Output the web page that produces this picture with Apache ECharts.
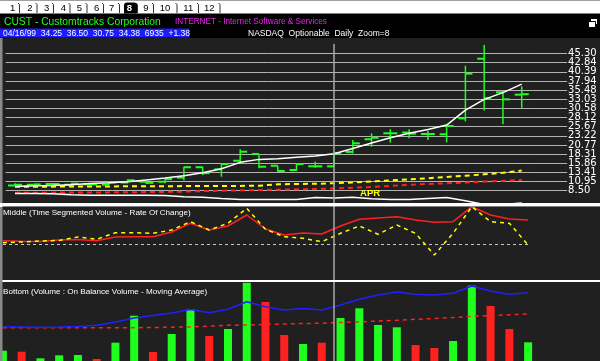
<!DOCTYPE html>
<html><head><meta charset="utf-8">
<script src="https://cdn.jsdelivr.net/npm/echarts@6/dist/echarts.min.js"></script>
<style>html,body{margin:0;padding:0;background:#000;}#c{width:600px;height:361px;}</style>
</head><body><div id="c"></div>
<script>
// ---- data ----
const dates = ['03/09/99','03/10/99','03/11/99','03/12/99','03/15/99','03/16/99','03/17/99','03/18/99','03/19/99',
  '03/22/99','03/23/99','03/24/99','03/25/99','03/26/99','03/29/99','03/30/99','03/31/99','04/01/99',
  '04/05/99','04/06/99','04/07/99','04/08/99','04/09/99','04/12/99','04/13/99','04/14/99','04/15/99','04/16/99'];
const openP  = [9.9,10.1,10.3,10.1,10.2,10.1,10.7,10.9,10.9,12.0,14.8,14.24,16.54,18.34,15.2,14.05,15.04,15.04,18.9,22.3,23.9,24.1,23.7,23.63,27.9,43.9,34.9,34.25];
const highP  = [10.5,10.3,10.5,10.5,10.5,10.9,11.55,11.1,11.8,14.9,14.9,15.65,19.6,18.34,15.2,15.85,16.28,18.96,22.1,23.9,24.97,24.97,24.59,25.85,42.0,47.6,35.3,36.50];
const lowP   = [9.8,9.9,10.0,9.9,9.85,10.0,10.5,10.3,10.5,11.3,12.7,12.25,15.85,14.5,13.6,13.78,14.67,14.93,18.5,20.3,21.37,22.55,22.1,21.48,27.1,30.0,26.3,30.75];
const closeP = [10.1,10.2,10.3,10.4,10.2,10.7,11.3,10.6,11.6,14.8,13.2,15.65,18.96,14.93,13.78,15.66,15.04,18.53,21.2,22.7,23.9,23.8,23.7,25.85,39.9,33.3,33.0,34.38];
const maShort = [9.6,9.8,9.9,10.1,10.4,10.6,10.9,11.4,11.9,12.5,13.3,14.4,16.1,16.9,17.1,17.5,17.8,18.4,19.8,21.3,22.7,23.9,24.9,26.1,30.1,33.0,34.8,37.1];
const maMid   = [9.55,9.57,9.59,9.61,9.63,9.65,9.67,9.69,9.71,9.73,9.75,9.76,9.78,9.85,10.2,10.3,10.35,10.5,10.7,10.95,11.25,11.55,11.85,12.2,12.5,12.9,13.3,13.9];
const maLong  = [7.95,7.97,7.98,8.0,8.02,8.05,8.08,8.12,8.18,8.25,8.38,8.5,8.6,8.68,8.78,8.88,8.98,9.1,9.3,9.5,9.8,10.1,10.3,10.5,10.7,10.95,11.15,11.4];
const relStrength = [7.75,7.75,7.7,7.43,7.29,7.29,7.29,7.29,7.2,6.89,6.76,6.41,6.14,6.14,6.14,6.14,6.68,6.57,6.76,6.35,6.14,6.14,6.41,6.68,5.8,4.8,4.8,5.2];
const priceTickLabels = ['8.50','10.95','13.41','15.86','18.31','20.77','23.22','25.67','28.12','30.58','33.03','35.48','37.94','40.39','42.84','45.30'];
const monthLabel = 'APR';
const monthStart = '04/01/99';

const volDates = ['03/08/99'].concat(dates);
const volume = [3820,3450,1000,2110,2230,740,6790,16800,3340,10020,19180,9280,11870,29000,21900,9650,6310,6790,15950,19550,13360,12500,5940,4820,7420,27940,20400,11870,6935];
const volUp = [1,0,1,1,1,0,1,1,0,1,1,0,1,1,0,0,1,0,1,1,1,1,0,0,1,1,0,0,1];
const obv   = [34.3,34.0,33.7,34.0,34.5,35.7,39.0,43.0,45.5,48.0,51.5,48.3,51.7,59.3,54.3,51.0,52.5,51.0,56.0,61.7,66.0,69.0,66.7,66.0,67.7,75.0,70.0,66.7,68.3];
const obvMA = [33.3,33.3,33.3,33.3,33.3,33.3,33.3,33.3,33.5,33.8,34.2,34.8,35.7,36.0,36.5,37.0,37.5,37.8,38.5,39.2,40.0,40.7,41.7,42.5,43.5,44.7,45.4,46.2,47.0];
const tsvRoc    = [3.3,2.7,2.5,4,4.5,3.3,7,7.3,7.3,12,20.7,14,18,29,15,9,11,10,18,24.7,26,27.3,24,21.7,22.3,37.3,29,25,24];
const tsvSignal = [1.3,2,3,3.5,7,4.7,11.3,11.3,10.7,14,22.3,14,20.7,35.7,14.7,7.3,5.7,2.3,10.7,18,9.7,19,10.7,-11,10.7,37.3,22.3,20.7,-1];

const tabs = ['1','2','3','4','5','6','7','8','9','10','11','12'];
const activeTab = '8';
const title1 = 'CUST - Customtracks Corporation';
const title2 = 'INTERNET - Internet Software & Services';
const quoteLine = '04/16/99  34.25  36.50  30.75  34.38  6935  +1.38';
const infoLine = 'NASDAQ  Optionable  Daily  Zoom=8';
const middleTitle = 'Middle (Time Segmented Volume - Rate Of Change)';
const bottomTitle = 'Bottom (Volume : On Balance Volume - Moving Average)';

// ---- chart ----
const priceTickValues = priceTickLabels.map(Number);
const evenTicks = priceTickValues.filter((v,i)=>i%2===0);
const oddTicks = priceTickValues.filter((v,i)=>i%2===1);
const tickText = (v)=>{let k=0,b=1e9;priceTickValues.forEach((t,i)=>{const d=Math.abs(t-v);if(d<b){b=d;k=i;}});return priceTickLabels[k];};
const GRID = '#b4b4b4';
const chart = echarts.init(document.getElementById('c'), null, {renderer:'canvas'});

const tabX = [12.7,30,46.7,63.3,79.3,96.7,111.7,129.3,146,165,188.3,209.3];
const tabSep = [19.5,37,53.5,70,87,103.5,119.5,137.5,153.5,177,198.5,220];
const graphics = [
  {type:'rect', z:-10, shape:{x:0,y:0,width:600,height:14}, style:{fill:'#ffffff'}},
  {type:'rect', z:-10, shape:{x:0,y:0,width:600,height:1}, style:{fill:'#a0a0a0'}},
  {type:'rect', z:-10, shape:{x:0,y:13,width:600,height:1}, style:{fill:'#808080'}},
  {type:'rect', z:-10, shape:{x:0,y:38,width:600,height:165}, style:{fill:'#202020'}},
  {type:'rect', z:-10, shape:{x:0,y:207,width:600,height:73}, style:{fill:'#202020'}},
  {type:'rect', z:-10, shape:{x:0,y:282,width:600,height:79}, style:{fill:'#202020'}},
  {type:'rect', z:-9, shape:{x:0,y:28.5,width:189,height:9}, style:{fill:'#1c1cff'}},
  {type:'rect', z:50, shape:{x:0,y:203,width:600,height:3.5}, style:{fill:'#ffffff'}},
  {type:'rect', z:50, shape:{x:0,y:280,width:600,height:2}, style:{fill:'#ffffff'}},
  {type:'rect', z:50, shape:{x:0,y:38,width:2.5,height:323}, style:{fill:'#8a8a8a'}},
  {type:'rect', z:50, shape:{x:0,y:203,width:2.5,height:4}, style:{fill:'#ffffff'}},
  {type:'rect', z:5, shape:{x:124,y:2.5,width:13,height:11,r:[3,3,0,0]}, style:{fill:'#000'}},
  {type:'rect', z:5, shape:{x:590.5,y:18.5,width:7,height:6}, style:{fill:'#fff',stroke:'#000',lineWidth:1}},
  {type:'rect', z:5, shape:{x:588.5,y:21.5,width:7,height:6}, style:{fill:'#fff',stroke:'#000',lineWidth:1}},
  {type:'text', z:5, x:4, y:22.5, style:{text:title1, fill:'#22ff22', font:'10.3px "Liberation Sans"', verticalAlign:'middle'}},
  {type:'text', z:5, x:175, y:22, style:{text:title2, fill:'#ee22ee', font:'8.2px "Liberation Sans"', verticalAlign:'middle'}},
  {type:'text', z:5, x:3, y:33.3, style:{text:quoteLine, fill:'#ffffff', font:'8.5px "Liberation Sans"', verticalAlign:'middle'}},
  {type:'text', z:5, x:248, y:33.3, style:{text:infoLine, fill:'#ffffff', font:'8.5px "Liberation Sans"', verticalAlign:'middle'}},
  {type:'text', z:55, x:3, y:213, style:{text:middleTitle, fill:'#ffffff', font:'8.1px "Liberation Sans"', verticalAlign:'middle'}},
  {type:'text', z:55, x:3, y:291.5, style:{text:bottomTitle, fill:'#ffffff', font:'8.1px "Liberation Sans"', verticalAlign:'middle'}}
];
tabs.forEach((t,i)=>{
  const act = t===activeTab;
  graphics.push({type:'text', z:6, x:tabX[i], y:8, style:{text:t, fill:act?'#fff':'#000', font:(act?'bold ':'')+'9.5px "Liberation Sans"', align:'center', verticalAlign:'middle'}});
  graphics.push({type:'polyline', z:6, shape:{points:[[tabSep[i]-1.5,3],[tabSep[i],4.5],[tabSep[i],13]]}, style:{stroke:'#303030', lineWidth:1, fill:null}});
});

const ohlc = dates.map((d,i)=>[i, openP[i], highP[i], lowP[i], closeP[i]]);
const GREEN = '#1eff1e';
const priceLabelStyle = {margin:37, color:'#ffffff', fontSize:10, fontFamily:'DejaVu Sans', showMinLabel:true, showMaxLabel:true, formatter:tickText};

const option = {
  backgroundColor:'#000000',
  animation:false,
  graphic: graphics,
  grid:[
    {left:5.6, right:68.9, top:40, bottom:158, outerBoundsMode:'none', containLabel:false},
    {left:-6.5, right:62.5, top:207, height:72, outerBoundsMode:'none', containLabel:false},
    {left:-6.5, right:62.5, top:282, bottom:0, outerBoundsMode:'none', containLabel:false}
  ],
  xAxis:[
    {type:'category', gridIndex:0, data:dates, boundaryGap:true, axisLine:{show:false}, axisTick:{show:false}, splitLine:{show:false},
     axisLabel:{show:true, inside:true, interval:0, margin:5, align:'left', padding:[0,0,0,26], color:'#ffff00', fontSize:9.5, fontWeight:'bold', fontFamily:'Liberation Sans',
       formatter:(v)=> v===monthStart ? monthLabel : ''}},
    {type:'category', gridIndex:1, data:volDates, boundaryGap:true, show:false},
    {type:'category', gridIndex:2, data:volDates, boundaryGap:true, show:false}
  ],
  yAxis:[
    {type:'value', gridIndex:0, position:'right', min:5.2, max:48.92,
     axisLine:{show:false},
     axisTick:{show:true, length:36, customValues:priceTickValues, lineStyle:{color:GRID, width:1}},
     splitLine:{show:true, lineStyle:{color:GRID, width:1}},
     axisLabel:Object.assign({customValues:evenTicks}, priceLabelStyle)},
    {type:'value', gridIndex:1, min:-35, max:37, show:false, splitLine:{show:false}},
    {type:'value', gridIndex:2, min:0, max:29300, show:false, splitLine:{show:false}},
    {type:'value', gridIndex:2, min:0, max:79, show:false, splitLine:{show:false}},
    {type:'value', gridIndex:0, position:'right', min:5.2, max:48.92,
     axisLine:{show:false}, axisTick:{show:false, customValues:oddTicks}, splitLine:{show:false},
     axisLabel:Object.assign({customValues:oddTicks}, priceLabelStyle)}
  ],
  series:[
    {type:'line', name:'maLong', xAxisIndex:0, yAxisIndex:0, data:maLong, showSymbol:false, z:3, silent:true,
     lineStyle:{color:'#ff2020', width:2, type:[5,4]}},
    {type:'line', name:'maMid', xAxisIndex:0, yAxisIndex:0, data:maMid, showSymbol:false, z:3, silent:true,
     lineStyle:{color:'#ffff00', width:2, type:[5,4]}},
    {type:'line', name:'rs', xAxisIndex:0, yAxisIndex:0, data:relStrength, showSymbol:false, z:3, silent:true,
     lineStyle:{color:'#ffffff', width:1.5}},
    {type:'custom', name:'ohlc', xAxisIndex:0, yAxisIndex:0, data:ohlc, z:4, silent:true,
     encode:{x:0, y:[1,2,3,4]},
     renderItem:(params, api)=>{
       const x = api.value(0);
       const o = api.coord([x, api.value(1)]);
       const h = api.coord([x, api.value(2)]);
       const l = api.coord([x, api.value(3)]);
       const c = api.coord([x, api.value(4)]);
       const w = 7;
       return {type:'group', children:[
         {type:'line', shape:{x1:h[0],y1:h[1],x2:l[0],y2:l[1]}, style:{stroke:GREEN, lineWidth:1.5}},
         {type:'line', shape:{x1:o[0]-w,y1:o[1],x2:o[0],y2:o[1]}, style:{stroke:GREEN, lineWidth:2}},
         {type:'line', shape:{x1:c[0],y1:c[1],x2:c[0]+w,y2:c[1]}, style:{stroke:GREEN, lineWidth:2}}
       ]};
     }},
    {type:'line', name:'maShort', xAxisIndex:0, yAxisIndex:0, data:maShort, showSymbol:false, z:5, silent:true,
     lineStyle:{color:'#ffffff', width:1.5},
     markLine:{silent:true, symbol:['none','none'], label:{show:false}, z:6,
       lineStyle:{color:'#a8a8a8', width:1.5, type:'solid'},
       emphasis:{disabled:true},
       data:[[{xAxis:monthStart, y:44},{xAxis:monthStart, y:361}]]}},
    {type:'line', name:'tsvRoc', xAxisIndex:1, yAxisIndex:1, data:tsvRoc, showSymbol:false, z:4, silent:true,
     lineStyle:{color:'#ff2020', width:1.5},
     markLine:{silent:true, symbol:['none','none'], label:{show:false},
       lineStyle:{color:'#c8c8c8', width:1, type:[3,3]}, emphasis:{disabled:true},
       data:[[{x:3, yAxis:0},{x:530, yAxis:0}]]}},
    {type:'line', name:'tsvSignal', xAxisIndex:1, yAxisIndex:1, data:tsvSignal, showSymbol:false, z:5, silent:true,
     lineStyle:{color:'#ffff00', width:1.5, type:[4,4]}},
    {type:'bar', name:'volume', xAxisIndex:2, yAxisIndex:2, barWidth:8, silent:true, z:3,
     data: volume.map((v,i)=>({value:v, itemStyle:{color: volUp[i] ? '#1eff1e' : '#ff2020'}}))},
    {type:'line', name:'obvMA', xAxisIndex:2, yAxisIndex:3, data:obvMA, showSymbol:false, z:4, silent:true,
     lineStyle:{color:'#ff2020', width:1.5, type:[4,4]}},
    {type:'line', name:'obv', xAxisIndex:2, yAxisIndex:3, data:obv, showSymbol:false, z:5, silent:true,
     lineStyle:{color:'#2020ff', width:1.5}}
  ]
};
chart.setOption(option);
</script></body></html>
